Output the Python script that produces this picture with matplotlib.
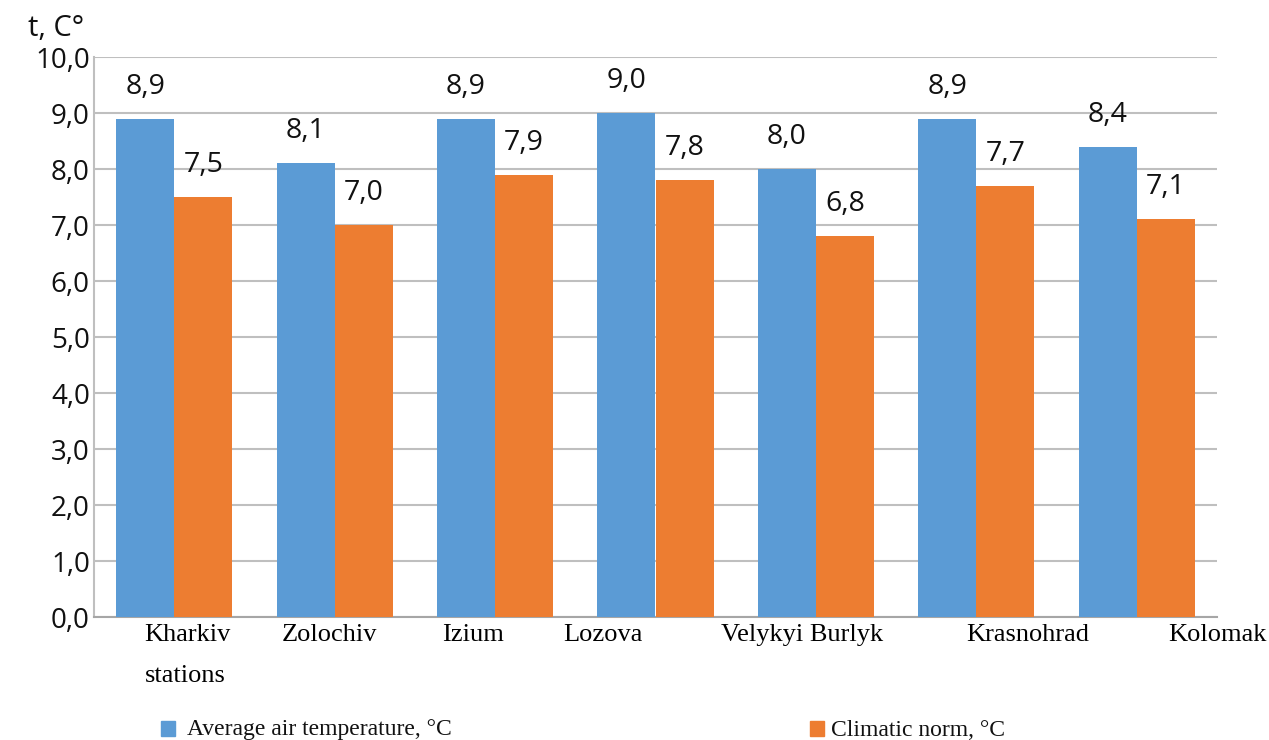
import numpy as np
import matplotlib.pyplot as plt

# Станції та значення температури
stations = ["Kharkiv\nstations", "Zolochiv", "Izium", "Lozova",
            "Velykyi Burlyk", "Krasnohrad", "Kolomak"]
avg_temp = [8.9, 8.1, 8.9, 9.0, 8.0, 8.9, 8.4]
norm_temp = [7.5, 7.0, 7.9, 7.8, 6.8, 7.7, 7.1]
yticks = np.arange(0, 10.5, 1.0)

# зсув підписів по осі x (у частках категорії)
label_shift = [0.006, -0.143, -0.143, -0.383, -0.403, 0.127, 0.385]

blue = "#5B9BD5"
orange = "#ED7D31"
grid_c = "#BFBFBF"

fig = plt.figure(figsize=(12.69, 7.40), dpi=100)
ax = fig.add_axes([94 / 1269, 1 - 617 / 740, 1123 / 1269, 560 / 740])

x = np.arange(len(stations))
w = 0.362
b1 = ax.bar(x - w / 2, avg_temp, w, color=blue, zorder=3)
b2 = ax.bar(x + w / 2, norm_temp, w, color=orange, zorder=3)

# підписи значень
for bars, vals in ((b1, avg_temp), (b2, norm_temp)):
    for r, v in zip(bars, vals):
        ax.text(r.get_x() + r.get_width() / 2, v + 0.57,
                f"{v:.1f}".replace(".", ","), ha="center", va="center",
                fontsize=20.5, family="Open Sans", color="#111111")

ax.set_xlim(-0.5, len(stations) - 0.5)
ax.set_ylim(0, 10)
ax.set_yticks(yticks)
ax.set_yticklabels([f"{t:.1f}".replace(".", ",") for t in yticks],
                   fontsize=20, family="Open Sans", color="#111111")
ax.set_xticks([])
ax.tick_params(axis="y", length=0, pad=3)
ax.yaxis.grid(True, color=grid_c, linewidth=1.5, zorder=0)

for s in ["top", "right"]:
    ax.spines[s].set_visible(False)
ax.spines["left"].set_color(grid_c)
ax.spines["left"].set_linewidth(1.5)
ax.spines["bottom"].set_color("#A6A6A6")
ax.spines["bottom"].set_linewidth(1.5)

# назви станцій
for i, (name, dx) in enumerate(zip(stations, label_shift)):
    ax.text(i - 0.19 + dx, -0.13, name, ha="left", va="top",
            fontsize=19, family="Liberation Serif",
            color="#000000", linespacing=2.1)

fig.text(28 / 1269, 1 - 28 / 740, "t, C°", fontsize=21, family="Open Sans",
         ha="left", va="center", color="#111111")

# легенда
fig.patches.append(plt.Rectangle((161 / 1269, 1 - 736 / 740), 14 / 1269, 15 / 740,
                                 transform=fig.transFigure, color=blue))
fig.text(187 / 1269, 1 - 730 / 740, "Average air temperature, °C",
         fontsize=17, family="Liberation Serif", va="center", color="#111111")
fig.patches.append(plt.Rectangle((810 / 1269, 1 - 736 / 740), 14 / 1269, 15 / 740,
                                 transform=fig.transFigure, color=orange))
fig.text(831 / 1269, 1 - 730 / 740, "Climatic norm, °C",
         fontsize=17, family="Liberation Serif", va="center", color="#111111")

fig.savefig("out.png", dpi=100)
